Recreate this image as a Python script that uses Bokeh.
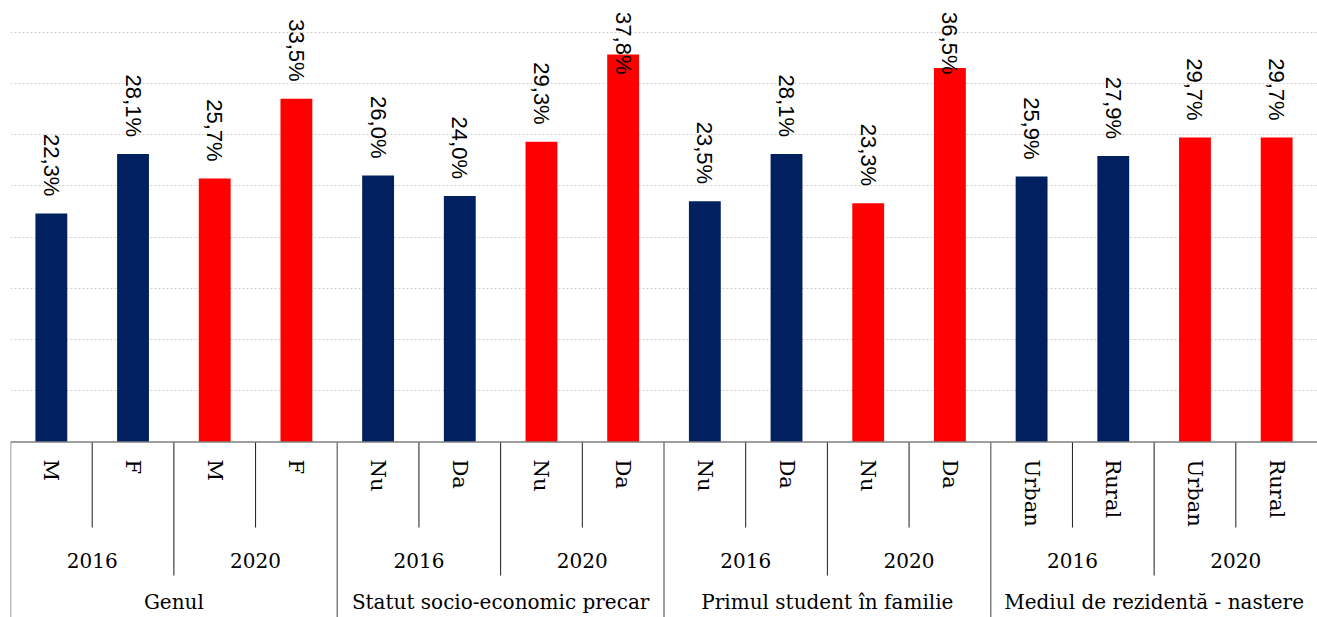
import math
from bokeh.plotting import figure
from bokeh.models import FactorRange, Range1d, Span, FixedTicker, ColumnDataSource
from bokeh.core.properties import value
from bokeh.embed import file_html
from bokeh.resources import INLINE

# ---- data ----
groups = ["Genul", "Statut socio-economic precar", "Primul student în familie",
          "Mediul de rezidentă - nastere"]
years = ["2016", "2020"]
subcats = {
    "Genul": ["M", "F"],
    "Statut socio-economic precar": ["Nu", "Da"],
    "Primul student în familie": ["Nu", "Da"],
    "Mediul de rezidentă - nastere": ["Urban", "Rural"],
}
values = [22.3, 28.1, 25.7, 33.5,
          26.0, 24.0, 29.3, 37.8,
          23.5, 28.1, 23.3, 36.5,
          25.9, 27.9, 29.7, 29.7]
year_colors = {"2016": "#002060", "2020": "#FF0000"}

# ---- layout constants (pixels) ----
W, H = 1317, 617
LEFT = 10
PPU = 10.25                  # pixels per percentage point
Y0_PAGE = 441.5              # page y of value 0
YMAX = 40 + 31.5 / PPU
YMIN = -(H - Y0_PAGE) / PPU


def px_below(page_y):
    return -(page_y - Y0_PAGE) / PPU


factors = [(g, y, s) for g in groups for y in years for s in subcats[g]]
colors = [year_colors[f[1]] for f in factors]
labels = [("%.1f" % v).replace(".", ",") + "%" for v in values]
label_y = [min(v + 17 / PPU, (Y0_PAGE - 74) / PPU) for v in values]

src = ColumnDataSource(dict(x=factors, top=values, color=colors, label=labels, ly=label_y))

x_range = FactorRange(factors=factors, group_padding=0, subgroup_padding=0, range_padding=0)
p = figure(x_range=x_range, y_range=Range1d(YMIN, YMAX), width=W, height=H,
           output_backend="svg", toolbar_location=None, min_border=0, min_border_left=LEFT,
           outline_line_color=None, background_fill_color="white", border_fill_color="white")
p.xaxis.visible = False
p.yaxis.visible = False
p.xgrid.visible = False
p.ygrid.ticker = FixedTicker(ticks=[5, 10, 15, 20, 25, 30, 35, 40])
p.ygrid.grid_line_color = "#D0D0D0"
p.ygrid.grid_line_dash = "2 2"
p.ygrid.grid_line_width = 1

p.vbar(x="x", top="top", width=0.39, bottom=0, color="color", line_color=None, source=src)

# baseline
p.add_layout(Span(location=0, dimension="width", line_color="#7F7F7F", line_width=1.5))

# bar value labels
p.text(x="x", y="ly", text="label", source=src, angle=-math.pi / 2,
       text_align="right", text_baseline="middle",
       text_font=value("Liberation Sans"), text_font_size="22px", text_color="#000000")

# separators
inner_x, year_x, grp_x = [], [], []
for g in groups:
    s1, s2 = subcats[g]
    grp_x.append((g, "2016", s1, -0.5))
    year_x.append((g, "2020", s1, -0.5))
    for y in years:
        inner_x.append((g, y, s2, -0.5))

p.segment(x0=inner_x, x1=inner_x, y0=[0] * len(inner_x), y1=[px_below(527)] * len(inner_x),
          line_color="#1a1a1a", line_width=1)
p.segment(x0=year_x, x1=year_x, y0=[0] * len(year_x), y1=[px_below(575)] * len(year_x),
          line_color="#1a1a1a", line_width=1)
p.segment(x0=grp_x, x1=grp_x, y0=[0] * len(grp_x), y1=[YMIN] * len(grp_x),
          line_color="#7F7F7F", line_width=1.5)

# category labels (innermost, rotated)
p.text(x=factors, y=[px_below(459)] * len(factors), text=[f[2] for f in factors],
       angle=-math.pi / 2, text_align="left", text_baseline="middle",
       text_font=value("DejaVu Serif"), text_font_size="21px", text_color="#000000")

# year labels
mid = [(g, y) for g in groups for y in years]
p.text(x=mid, y=[px_below(560)] * len(mid), text=[m[1] for m in mid],
       text_align="center", text_baseline="middle",
       text_font=value("DejaVu Serif"), text_font_size="20px", text_color="#000000")

# group labels
p.text(x=groups, y=[px_below(601)] * len(groups), text=groups,
       text_align="center", text_baseline="middle",
       text_font=value("DejaVu Serif"), text_font_size="20px", text_color="#000000")

open("out.html", "w").write(file_html(p, INLINE))
